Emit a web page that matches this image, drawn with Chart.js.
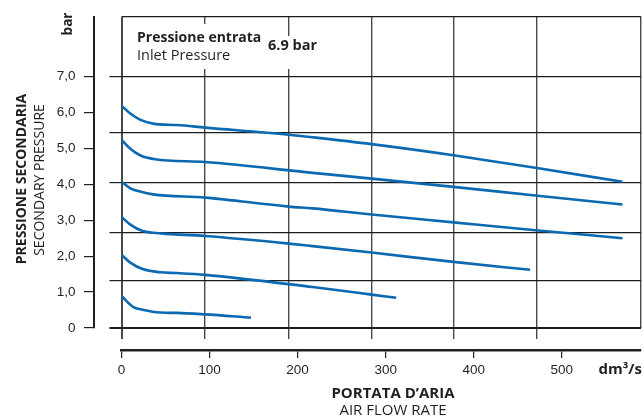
<!DOCTYPE html>
<html>
<head>
<meta charset="utf-8">
<script src="https://cdn.jsdelivr.net/npm/chart.js@4.4.1/dist/chart.umd.min.js"></script>
<style>
  html, body { margin: 0; padding: 0; background: #fff; }
  #wrap { width: 643px; height: 419px; }
</style>
</head>
<body>
<div id="wrap"><canvas id="chart"></canvas></div>
<script>
// air flow (dm3/s) against secondary pressure (bar), one curve per regulator setting
const flow6 = [0, 10, 21, 36, 63, 95, 190, 217, 284, 377, 470, 569]
const press6 = [6.19, 5.97, 5.80, 5.69, 5.65, 5.58, 5.38, 5.31, 5.12, 4.81, 4.46, 4.07]
const flow5 = [0, 10, 21, 38, 95, 217, 284, 377, 470, 569]
const press5 = [5.24, 4.99, 4.81, 4.70, 4.62, 4.32, 4.16, 3.93, 3.69, 3.44]
const flow4 = [0, 10, 21, 36, 95, 190, 217, 284, 377, 470, 569]
const press4 = [4.07, 3.89, 3.80, 3.72, 3.63, 3.38, 3.33, 3.16, 2.94, 2.72, 2.50]
const flow3 = [0, 10, 24, 36, 95, 190, 217, 284, 377, 464]
const press3 = [3.09, 2.88, 2.70, 2.65, 2.56, 2.35, 2.28, 2.10, 1.84, 1.62]
const flow2 = [0, 10, 24, 44, 63, 95, 217, 284, 312]
const press2 = [2.04, 1.82, 1.64, 1.55, 1.53, 1.48, 1.14, 0.93, 0.84]
const flow1 = [0, 13, 24, 44, 63, 95, 147]
const press1 = [0.89, 0.59, 0.51, 0.43, 0.42, 0.38, 0.29]

const xTicks = [0, 100, 200, 300, 400, 500]
const yTicks = [0, 1, 2, 3, 4, 5, 6, 7]
// the printed grid does not follow the axis ticks
const gridX = [0, 95, 190, 284, 377, 471, 590]
const gridY = [0, 1.32, 2.67, 4.04, 5.45, 6.99, 8.67]

const X_MAX = 590
const Y_MAX = 8.67
const BLUE = '#0b69b2'
const INK = '#231f20'
const TICK_FONT = {family: '"Liberation Sans", Arial, sans-serif', size: 13.5}
const TEXT_FONT = '"Open Sans", "Noto Sans", sans-serif'
const NO_INK = 'rgba(0,0,0,0)'

const curves = [[flow6, press6], [flow5, press5], [flow4, press4], [flow3, press3], [flow2, press2], [flow1, press1]]

// titles and the inlet pressure note
const notes = {
    id: 'notes',
    afterDraw(chart){
        const ctx = chart.ctx
        ctx.save()
        ctx.fillStyle = '#fff'
        ctx.fillRect(130, 24, 136, 45)
        ctx.fillRect(264, 36, 60, 33)

        ctx.fillStyle = INK
        ctx.textBaseline = 'middle'
        ctx.textAlign = 'left'
        ctx.font = 'bold 14px ' + TEXT_FONT
        ctx.fillText('Pressione entrata', 137, 38)
        ctx.font = 'bold 14.5px ' + TEXT_FONT
        ctx.fillText('6.9 bar', 268, 46)
        ctx.font = '14.5px ' + TEXT_FONT
        ctx.fillText('Inlet Pressure', 137, 56)

        ctx.textAlign = 'center'
        ctx.font = 'bold 15px ' + TEXT_FONT
        ctx.fillText('PORTATA D\u2019ARIA', 393, 394)
        ctx.font = '15px ' + TEXT_FONT
        ctx.fillText('AIR FLOW RATE', 393, 411)

        ctx.textAlign = 'right'
        ctx.font = 'bold 15px ' + TEXT_FONT
        ctx.fillText('dm\u00b3/s', 642, 370)

        ctx.textAlign = 'center'
        ctx.save()
        ctx.translate(22, 179)
        ctx.rotate(-Math.PI / 2)
        ctx.font = 'bold 14px ' + TEXT_FONT
        ctx.fillText('PRESSIONE SECONDARIA', 0, 0)
        ctx.restore()
        ctx.save()
        ctx.translate(40, 180)
        ctx.rotate(-Math.PI / 2)
        ctx.font = '14px ' + TEXT_FONT
        ctx.fillText('SECONDARY PRESSURE', 0, 0)
        ctx.restore()
        ctx.save()
        ctx.translate(68, 24)
        ctx.rotate(-Math.PI / 2)
        ctx.font = 'bold 13.5px ' + TEXT_FONT
        ctx.fillText('bar', 0, 0)
        ctx.restore()
        ctx.restore()
    }
}

const chart = new Chart('chart', {
    type: 'scatter',
    data: {
        datasets: curves.map(([fx, py]) => ({
            data: fx.map((x, i) => ({x: x, y: py[i]})),
            showLine: true,
            borderColor: BLUE,
            borderWidth: 2.6,
            pointRadius: 0,
            cubicInterpolationMode: 'monotone',
            xAxisID: 'x',
            yAxisID: 'y'
        }))
    },
    options: {
        responsive: true,
        maintainAspectRatio: false,
        animation: false,
        layout: {padding: {top: 13, right: 2, left: 0, bottom: 0}},
        plugins: {legend: {display: false}, tooltip: {enabled: false}},
        scales: {
            x: {
                type: 'linear', position: 'bottom', weight: 1, min: 0, max: X_MAX,
                afterBuildTicks: s => { s.ticks = xTicks.map(v => ({value: v})) },
                ticks: {padding: 4, color: INK, font: TICK_FONT},
                grid: {drawOnChartArea: false, tickLength: 8, color: INK, lineWidth: 1.2},
                border: {color: INK, width: 2.5},
                afterFit: s => { s.height = 69 }
            },
            xGrid: {
                type: 'linear', position: 'bottom', weight: 0, min: 0, max: X_MAX,
                afterBuildTicks: s => { s.ticks = gridX.map(v => ({value: v})) },
                ticks: {display: false},
                grid: {
                    tickLength: 11, color: '#4a4a4a',
                    lineWidth: c => c.index === 0 ? 2 : 1.4,
                    tickColor: c => c.tick && c.tick.value === X_MAX ? NO_INK : '#4a4a4a'
                },
                border: {display: false},
                afterFit: s => { s.height = 22 }
            },
            y: {
                type: 'linear', position: 'left', weight: 1, min: 0, max: Y_MAX,
                afterBuildTicks: s => { s.ticks = yTicks.map(v => ({value: v})) },
                ticks: {
                    padding: 8.5, color: INK, font: TICK_FONT,
                    callback: v => v === 0 ? '0' : v.toFixed(1).replace('.', ',')
                },
                grid: {drawOnChartArea: false, tickLength: 10, color: INK, lineWidth: 1.2},
                border: {color: INK, width: 2},
                afterFit: s => { s.width = 94 }
            },
            yGrid: {
                type: 'linear', position: 'left', weight: 0, min: 0, max: Y_MAX,
                afterBuildTicks: s => { s.ticks = gridY.map(v => ({value: v})) },
                ticks: {display: false},
                grid: {
                    tickLength: 12, color: '#1e1e1e',
                    lineWidth: c => c.index === 0 ? 2 : 1.2,
                    tickColor: c => c.tick && c.tick.value === Y_MAX ? NO_INK : '#1e1e1e'
                },
                border: {display: false},
                afterFit: s => { s.width = 27.5 }
            }
        }
    },
    plugins: [notes]
})
</script>
</body>
</html>
